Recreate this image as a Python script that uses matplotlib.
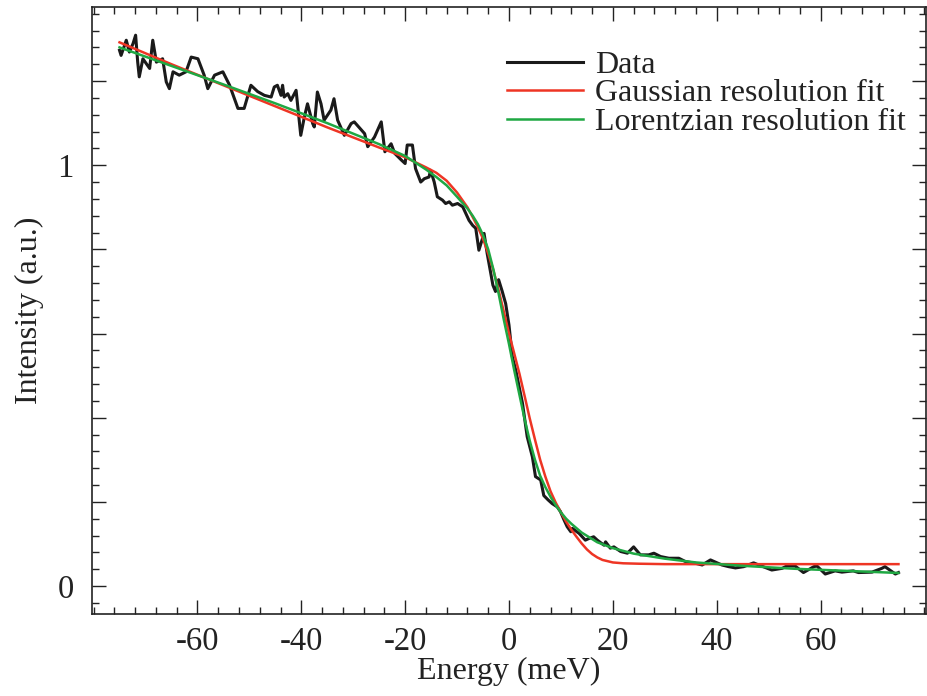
import matplotlib
matplotlib.use("Agg")
import matplotlib.pyplot as plt
from matplotlib.ticker import FixedLocator, MultipleLocator, FuncFormatter

plt.rcParams['font.family'] = ['Liberation Serif', 'DejaVu Serif']
plt.rcParams['axes.unicode_minus'] = False

# ---- data ----
data_E = [-75.0, -74.7, -73.7, -73.1, -72.4, -71.9, -71.5, -71.2, -70.5, -69.2,
          -68.6, -67.9, -66.7, -66.0, -65.4, -64.7, -63.5, -62.2, -61.2, -59.9,
          -58.7, -58.0, -56.7, -55.1, -53.8, -52.2, -51.0, -49.7, -48.4, -47.1,
          -45.8, -45.2, -44.6, -43.9, -43.6, -43.3, -42.6, -42.0, -41.0, -40.1,
          -39.4, -38.8, -37.8, -37.5, -36.9, -36.2, -35.6, -34.3, -33.7, -33.0,
          -31.7, -30.4, -29.8, -27.8, -27.2, -25.9, -24.6, -23.9, -22.7, -22.0,
          -20.7, -20.0, -19.6, -18.6, -18.0, -17.0, -16.3, -15.4, -15.1, -14.4,
          -13.8, -12.8, -12.2, -11.5, -10.9, -9.9, -8.9, -8.3, -7.7, -7.0,
          -6.4, -5.8, -4.8, -4.2, -3.1, -2.6, -2.0, -1.3, -0.64, 0.0,
          0.64, 1.3, 2.6, 3.5, 4.5, 5.1, 6.1, 6.7, 7.5, 8.3,
          9.3, 9.9, 10.6, 11.2, 11.9, 12.2, 13.5, 14.7, 15.4, 16.3,
          17.0, 18.3, 18.6, 19.5, 20.2, 21.5, 22.8, 24.0, 25.3, 26.9,
          27.9, 29.2, 30.8, 32.7, 34.0, 35.9, 37.2, 38.8, 41.0, 42.3,
          43.6, 45.2, 47.1, 48.1, 50.6, 52.6, 53.5, 55.1, 56.7, 58.7,
          59.3, 60.9, 62.8, 64.1, 66.3, 67.3, 69.9, 71.8, 72.4, 74.4,
          75.0]
data_I = [1.273, 1.261, 1.297, 1.269, 1.289, 1.309, 1.245, 1.210, 1.253, 1.230,
          1.297, 1.245, 1.253, 1.198, 1.182, 1.222, 1.214, 1.222, 1.257, 1.253,
          1.214, 1.182, 1.214, 1.222, 1.190, 1.135, 1.135, 1.190, 1.175, 1.166,
          1.162, 1.186, 1.190, 1.166, 1.190, 1.162, 1.170, 1.154, 1.178, 1.071,
          1.115, 1.146, 1.099, 1.091, 1.174, 1.146, 1.107, 1.131, 1.158, 1.107,
          1.071, 1.099, 1.103, 1.075, 1.044, 1.067, 1.103, 1.032, 1.051, 1.028,
          1.012, 1.004, 1.048, 1.048, 0.992, 0.960, 0.968, 0.972, 0.988, 0.960,
          0.925, 0.917, 0.909, 0.913, 0.905, 0.909, 0.901, 0.885, 0.869, 0.857,
          0.850, 0.798, 0.838, 0.790, 0.715, 0.700, 0.728, 0.700, 0.671, 0.620,
          0.545, 0.513, 0.434, 0.355, 0.307, 0.260, 0.252, 0.215, 0.205, 0.196,
          0.188, 0.177, 0.157, 0.141, 0.129, 0.137, 0.125, 0.109, 0.113, 0.117,
          0.109, 0.097, 0.105, 0.090, 0.093, 0.082, 0.078, 0.093, 0.074, 0.074,
          0.078, 0.070, 0.066, 0.066, 0.058, 0.054, 0.050, 0.062, 0.050, 0.046,
          0.043, 0.046, 0.055, 0.050, 0.038, 0.042, 0.0475, 0.0475, 0.032, 0.046,
          0.0475, 0.0285, 0.036, 0.033, 0.036, 0.032, 0.033, 0.042, 0.046, 0.0285,
          0.032]

gauss_E = [-75, -65, -55, -45, -35, -25, -20, -16, -14, -12, -10, -8, -7, -6, -5,
           -4, -3, -2, -1, 0, 1, 2, 3, 4, 5, 6, 7, 8, 9, 10, 11, 12, 13, 14, 15,
           16, 17, 18, 20, 22, 25, 30, 75]
gauss_I = [1.292, 1.240, 1.190, 1.140, 1.090, 1.042, 1.019, 0.995, 0.982, 0.963,
           0.935, 0.900, 0.877, 0.853, 0.825, 0.790, 0.750, 0.703, 0.652, 0.600,
           0.553, 0.505, 0.452, 0.398, 0.348, 0.300, 0.260, 0.225, 0.198, 0.175,
           0.153, 0.134, 0.117, 0.101, 0.087, 0.076, 0.068, 0.062, 0.056, 0.054,
           0.053, 0.052, 0.052]

lorentz_E = [-75, -65, -55, -45, -35, -25, -20, -16, -14, -12, -10, -8, -7, -6, -5,
             -4, -3, -2, -1, 0, 1, 2, 3, 4, 5, 6, 7, 8, 9, 10, 11, 12, 14, 17, 20,
             24, 30, 36, 45, 55, 65, 75]
lorentz_I = [1.280, 1.236, 1.192, 1.147, 1.100, 1.050, 1.022, 0.990, 0.972, 0.952,
             0.925, 0.897, 0.880, 0.860, 0.834, 0.800, 0.752, 0.695, 0.633, 0.575,
             0.513, 0.455, 0.397, 0.345, 0.300, 0.262, 0.235, 0.212, 0.192, 0.175,
             0.160, 0.148, 0.127, 0.104, 0.090, 0.077, 0.065, 0.056, 0.048, 0.041,
             0.036, 0.031]

labels = ["Data", "Gaussian resolution fit", "Lorentzian resolution fit"]
x_major = [-60, -40, -20, 0, 20, 40, 60]

fig = plt.figure(figsize=(9.28, 6.96), dpi=100)
fig.subplots_adjust(left=92/928, right=926/928, top=1-7/696, bottom=1-614/696)
ax = fig.add_subplot(111)

ax.plot(data_E, data_I, color='#1a1a1a', lw=2.2, label=labels[0], zorder=2)
ax.plot(gauss_E, gauss_I, color='#ee3524', lw=1.8, label=labels[1], zorder=3)
ax.plot(lorentz_E, lorentz_I, color='#1fa843', lw=1.8, label=labels[2], zorder=4)

ax.set_xlim(-80.3, 80.3)
ax.set_ylim(-0.0665, 1.376)

ax.xaxis.set_major_locator(FixedLocator(x_major))
ax.xaxis.set_minor_locator(MultipleLocator(4))
ax.yaxis.set_major_locator(MultipleLocator(0.2))
ax.yaxis.set_minor_locator(MultipleLocator(0.04))
ax.yaxis.set_major_formatter(FuncFormatter(
    lambda v, p: '0' if abs(v) < 1e-6 else ('1' if abs(v - 1) < 1e-6 else '')))

ax.tick_params(which='both', direction='in', top=True, right=True,
               width=1.0, color='#222222', labelsize=23.5, labelcolor='#222222')
ax.tick_params(which='major', length=10)
ax.tick_params(which='minor', length=5)
ax.tick_params(axis='x', which='major', pad=9)
ax.tick_params(axis='y', which='major', pad=13)
for s in ax.spines.values():
    s.set_linewidth(1.2)
    s.set_color('#222222')

ax.set_xlabel("Energy (meV)", fontsize=23, color='#222222', labelpad=0)
ax.set_ylabel("Intensity (a.u.)", fontsize=23, color='#222222', labelpad=10)

leg = ax.legend(loc='upper left', bbox_to_anchor=(0.4976, 0.928), frameon=False,
                fontsize=23, handlelength=2.38, handletextpad=0.37,
                labelspacing=-0.03, borderpad=0, borderaxespad=0)
for t in leg.get_texts():
    t.set_color('#222222')

fig.savefig("out.png", dpi=100)
